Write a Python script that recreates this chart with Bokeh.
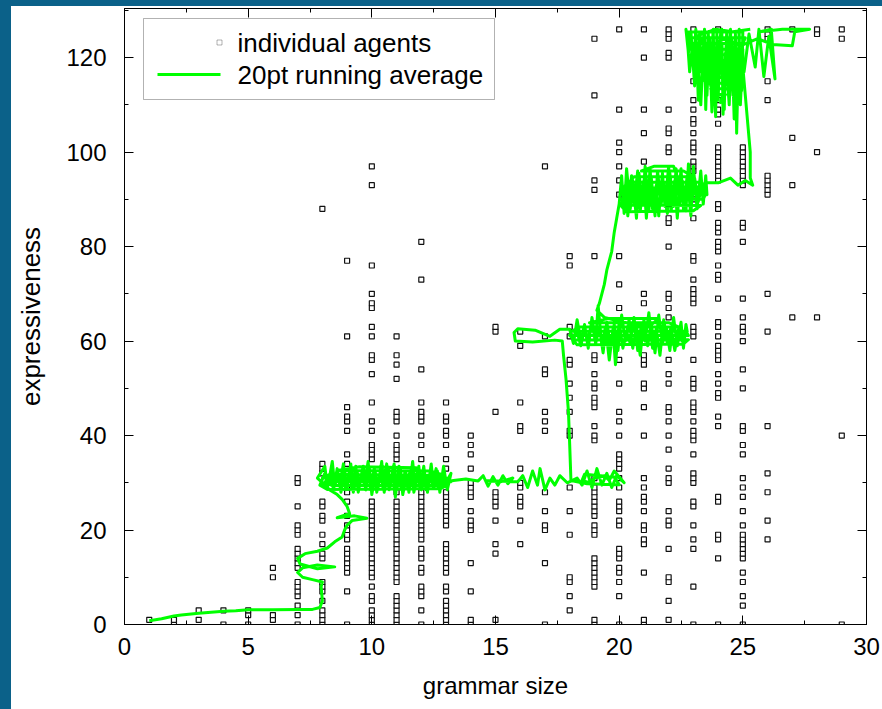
from bokeh.plotting import figure
from bokeh.models import (ColumnDataSource, SingleIntervalTicker, LinearAxis, Range1d,
                          BoxAnnotation, Label, GlobalInlineStyleSheet, CustomJSTickFormatter)
from bokeh.embed import file_html
from bokeh.resources import INLINE

# ---------------- data: individual agents (expressiveness per grammar size) ----------------
agents_g01 = [1]
agents_g02 = [0, 1]
agents_g03 = [1, 3]
agents_g04 = [0, 3]
agents_g05 = [0, 2, 3]
agents_g06 = [1, 2, 10, 12]
agents_g07 = [0, 2, 4, 6, 7, 8, 9, 12, 13, 14, 15, 16, 19, 20, 21, 25, 30, 31]
agents_g08 = [0, 1, 2, 3, 5, 7, 8, 9, 14, 15, 17, 19, 22, 23, 25, 26, 32, 33, 34, 88]
agents_g09 = [0, 7, 11, 12, 13, 14, 15, 16, 18, 19, 20, 21, 23, 26, 28, 29, 34, 36, 41, 43,
              44, 46, 61, 77]
agents_g10 = [0, 1, 2, 3, 5, 6, 8, 10, 11, 12, 13, 14, 15, 16, 17, 18, 19, 20, 21, 22, 23,
              24, 25, 26, 35, 36, 37, 38, 41, 43, 47, 53, 56, 57, 61, 63, 67, 68, 70, 76, 93, 97]
agents_g11 = [0, 1, 2, 3, 4, 5, 6, 9, 10, 11, 12, 13, 14, 15, 16, 17, 18, 19, 20, 21, 22, 23,
              24, 25, 26, 28, 35, 36, 37, 38, 40, 43, 44, 45, 52, 55, 57, 61]
agents_g12 = [0, 3, 6, 7, 8, 11, 12, 14, 15, 16, 18, 19, 20, 21, 22, 23, 24, 25, 26, 27, 28,
              35, 38, 40, 43, 44, 45, 47, 54, 73, 81]
agents_g13 = [0, 1, 2, 3, 4, 5, 7, 8, 11, 12, 13, 14, 15, 16, 17, 21, 22, 23, 24, 25, 26, 27,
              28, 33, 35, 38, 40, 41, 43, 44, 47]
agents_g14 = [0, 1, 7, 13, 20, 21, 22, 24, 27, 28, 29, 30, 33, 36, 38, 40]
agents_g15 = [1, 15, 17, 22, 25, 26, 27, 28, 45, 62, 63]
agents_g16 = [17, 22, 25, 26, 27, 29, 30, 33, 41, 42, 47, 59, 62]
agents_g17 = [0, 13, 20, 21, 24, 28, 41, 43, 45, 53, 54, 61, 97]
agents_g18 = [3, 6, 9, 10, 19, 24, 29, 40, 41, 45, 48, 51, 55, 56, 61, 63, 76, 78]
agents_g19 = [0, 1, 8, 9, 10, 11, 12, 13, 14, 19, 20, 21, 23, 24, 25, 26, 27, 28, 29, 31, 39,
              40, 42, 46, 47, 48, 50, 51, 53, 56, 57, 78, 92, 94, 112, 124]
agents_g20 = [0, 6, 9, 11, 12, 14, 15, 16, 21, 22, 24, 25, 26, 29, 31, 33, 34, 35, 36, 40, 43,
              45, 51, 56, 67, 72, 78, 91, 94, 97, 100, 102, 109, 126]
agents_g21 = [0, 1, 11, 17, 18, 20, 21, 24, 26, 27, 29, 31, 40, 46, 50, 51, 55, 56, 57, 68, 70,
              98, 104, 109, 120, 126]
agents_g22 = [1, 5, 9, 10, 16, 21, 22, 24, 30, 31, 33, 37, 40, 43, 45, 46, 51, 53, 56, 65, 67,
              69, 70, 80, 85, 86, 88, 89, 100, 101, 104, 105, 109, 120, 121, 124, 125, 126]
agents_g23 = [0, 8, 16, 18, 21, 25, 26, 30, 31, 32, 36, 39, 40, 41, 43, 45, 46, 47, 50, 51, 52,
              56, 61, 62, 63, 68, 69, 70, 71, 73, 77, 78, 86, 90, 96, 97, 98, 100, 101, 102, 104,
              106, 107, 109, 111, 115, 126]
agents_g24 = [0, 14, 18, 19, 26, 27, 42, 44, 48, 49, 51, 53, 56, 57, 58, 59, 61, 63, 64, 69, 73,
              74, 76, 79, 80, 81, 83, 84, 85, 88, 89, 94, 95, 96, 97, 98, 99, 100, 101, 106, 108,
              109, 111, 126]
agents_g25 = [0, 4, 6, 9, 11, 14, 15, 16, 17, 18, 19, 21, 24, 27, 29, 31, 36, 38, 41, 42, 50,
              54, 60, 62, 63, 65, 69, 81, 84, 85, 93, 94, 95, 96, 97, 98, 99, 100, 101]
agents_g26 = [18, 22, 28, 32, 42, 62, 70, 91, 92, 93, 94, 95, 111, 115, 124, 125, 126]
agents_g27 = [65, 93, 103, 126]
agents_g28 = [65, 100, 125, 126]
agents_g29 = [0, 40, 124, 126]

agent_columns = [agents_g01, agents_g02, agents_g03, agents_g04, agents_g05, agents_g06,
                 agents_g07, agents_g08, agents_g09, agents_g10, agents_g11, agents_g12,
                 agents_g13, agents_g14, agents_g15, agents_g16, agents_g17, agents_g18,
                 agents_g19, agents_g20, agents_g21, agents_g22, agents_g23, agents_g24,
                 agents_g25, agents_g26, agents_g27, agents_g28, agents_g29]
grammar_sizes = list(range(1, 30))

# ---------------- data: 20pt running average trajectory (size, expressiveness) ----------------
avg_start = [(1.0, 0.8), (1.5, 1.2), (2.0, 1.8), (2.3, 2.0), (3.0, 2.4), (3.5, 2.6), (4.0, 2.8),
             (4.5, 2.9), (5.0, 3.1), (6.0, 3.1), (7.0, 3.2), (7.6, 3.2), (7.9, 3.6), (8.0, 5.0),
             (7.95, 8.0), (8.0, 9.0), (7.6, 9.5), (7.2, 10.0), (7.0, 11.0), (7.2, 12.0),
             (7.8, 12.6), (8.5, 12.2), (7.8, 11.8), (7.1, 12.8), (7.0, 14.0), (7.3, 15.0),
             (7.8, 15.5), (8.2, 16.2), (8.5, 17.5), (8.8, 18.5), (8.9, 20.0), (9.0, 21.0),
             (9.2, 22.0), (9.8, 22.5), (9.3, 23.0), (8.6, 22.6), (9.1, 23.5), (9.0, 25.0),
             (8.8, 26.5), (8.6, 27.5), (8.3, 28.5), (8.0, 30.0)]
avg_blob_30 = [(7.8, 31.0), (8.1, 33.5), (8.2, 29.0), (8.35, 32.0), (8.45, 28.5), (8.6, 33.0),
               (8.7, 29.5), (8.85, 34.0), (8.95, 28.5), (9.1, 32.5), (9.2, 29.0), (9.35, 33.5),
               (9.45, 28.0), (9.6, 32.0), (9.7, 29.5), (9.85, 34.5), (9.95, 28.5), (10.1, 33.0),
               (10.2, 28.0), (10.35, 32.5), (10.45, 29.0), (10.6, 34.0), (10.7, 28.5),
               (10.85, 32.0), (10.95, 27.0), (11.1, 33.5), (11.2, 28.5), (11.35, 32.5),
               (11.45, 29.0), (11.6, 33.0), (11.7, 28.0), (11.85, 31.5), (11.95, 29.0),
               (12.1, 33.5), (12.2, 28.5), (12.35, 32.0), (12.45, 29.5), (12.6, 33.0),
               (12.7, 29.0), (12.85, 31.5), (12.95, 29.5), (13.1, 31.0), (13.2, 32.0),
               (13.05, 28.5), (12.9, 33.5), (12.75, 28.0), (12.65, 32.5), (12.5, 29.0),
               (12.4, 34.0), (12.25, 28.0), (12.15, 31.5), (12.0, 28.5), (11.9, 33.5),
               (11.75, 29.5), (11.65, 34.5), (11.5, 28.0), (11.4, 31.5), (11.25, 27.5),
               (11.15, 33.0), (11.0, 28.5), (10.9, 34.0), (10.75, 29.5), (10.65, 33.0),
               (10.5, 28.0), (10.4, 34.5), (10.25, 29.0), (10.15, 32.0), (10.0, 27.5),
               (9.9, 33.0), (9.75, 28.5), (9.65, 33.5), (9.5, 29.5), (9.4, 32.5), (9.25, 28.0),
               (9.15, 34.0), (9.0, 29.0), (8.9, 32.5), (8.75, 28.0), (8.65, 31.5), (8.5, 29.5),
               (8.4, 34.5), (8.25, 30.0), (8.1, 32.0), (7.9, 29.5),
               (8.2, 28.6), (12.8, 28.8), (13.0, 29.4), (8.4, 29.4), (8.1, 30.2), (13.2, 30.2),
               (13.0, 31.0), (8.0, 31.0), (8.3, 31.8), (12.9, 31.6), (12.4, 32.5), (8.6, 32.6),
               (9.5, 33.4), (11.8, 33.2), (11.0, 29.5), (11.8, 31.8), (12.6, 29.8), (13.3, 30.5)]
avg_plateau_30 = [(13.8, 30.8), (14.3, 30.4), (14.5, 31.5), (14.7, 29.3), (14.9, 31.3),
                  (15.1, 29.5), (15.3, 31.5), (15.5, 29.8), (15.7, 31.0), (15.2, 30.2),
                  (14.6, 30.5), (15.9, 30.2), (16.1, 31.5), (16.3, 29.0), (16.5, 32.5),
                  (16.7, 29.5), (16.8, 33.0), (17.0, 28.5), (17.2, 31.0), (17.4, 29.5),
                  (17.6, 31.5), (17.9, 30.0), (18.3, 31.0), (18.5, 29.5), (18.7, 32.5),
                  (18.9, 29.0), (19.1, 33.0), (19.3, 29.5), (19.5, 32.0), (19.7, 29.0),
                  (19.9, 31.5), (20.2, 30.0), (19.8, 32.5), (19.6, 30.5), (19.4, 31.5),
                  (19.0, 31.0), (18.8, 30.0), (18.5, 30.5), (18.6, 31.8), (19.8, 31.2),
                  (20.0, 29.6), (18.7, 29.8), (18.05, 30.5)]
avg_jump_60 = [(18.0, 38.0), (17.95, 45.0), (17.85, 52.0), (17.75, 57.0), (17.7, 60.0),
               (17.4, 60.2), (16.5, 59.8), (15.8, 60.0), (15.75, 61.8), (15.9, 62.6),
               (16.6, 62.3), (17.2, 61.0), (17.6, 62.5), (18.0, 62.5)]
avg_blob_60 = [(18.15, 59.5), (18.3, 64.5), (18.45, 60.0), (18.6, 63.5), (18.75, 58.5),
               (18.9, 65.0), (19.05, 60.0), (19.15, 67.5), (19.3, 59.0), (19.45, 63.0),
               (19.6, 56.0), (19.75, 62.5), (19.85, 55.0), (20.0, 64.0), (20.15, 58.5),
               (20.3, 62.0), (20.45, 59.5), (20.6, 65.0), (20.75, 58.0), (20.9, 63.5),
               (21.05, 60.0), (21.2, 66.0), (21.35, 58.5), (21.5, 62.5), (21.65, 57.0),
               (21.8, 64.5), (21.95, 59.5), (22.1, 63.0), (22.25, 58.0), (22.4, 62.5),
               (22.55, 60.0), (22.75, 62.0), (22.7, 63.5), (22.6, 58.5), (22.5, 64.0),
               (22.35, 59.0), (22.2, 65.0), (22.05, 58.0), (21.9, 63.0), (21.75, 59.5),
               (21.6, 65.5), (21.45, 57.5), (21.3, 63.5), (21.15, 59.0), (21.0, 64.5),
               (20.85, 57.0), (20.7, 63.0), (20.55, 58.5), (20.4, 64.5), (20.25, 60.0),
               (20.1, 65.5), (19.95, 58.0), (19.8, 63.5), (19.65, 59.0), (19.5, 64.0),
               (19.35, 57.5), (19.2, 63.0), (19.05, 59.5), (18.9, 64.0), (18.75, 60.5),
               (18.6, 62.5), (18.45, 59.0), (18.3, 62.0), (18.1, 60.5),
               (18.3, 59.2), (22.6, 59.4), (22.8, 60.3), (18.2, 60.2), (18.0, 61.2),
               (22.8, 61.2), (22.7, 62.1), (18.1, 62.1), (18.4, 63.0), (22.4, 63.0),
               (22.0, 63.9), (18.8, 63.9), (19.6, 64.8), (21.6, 64.8), (21.2, 63.0),
               (20.2, 64.0), (19.4, 65.0), (19.1, 66.5)]
avg_rise_90 = [(19.2, 68.0), (19.4, 72.0), (19.5, 75.0), (19.7, 79.0), (19.8, 83.0),
               (19.9, 86.0), (20.0, 89.0)]
avg_blob_90 = [(20.1, 95.0), (20.2, 87.0), (20.3, 96.5), (20.45, 88.0), (20.55, 94.0),
               (20.7, 86.0), (20.8, 95.5), (20.95, 89.0), (21.05, 97.0), (21.2, 87.5),
               (21.3, 94.5), (21.45, 86.5), (21.55, 96.0), (21.7, 89.0), (21.8, 93.5),
               (21.95, 87.0), (22.05, 95.5), (22.2, 88.5), (22.3, 96.5), (22.45, 89.0),
               (22.55, 94.0), (22.7, 87.5), (22.8, 97.5), (22.95, 90.0), (23.05, 94.5),
               (23.2, 89.5), (23.35, 93.0), (23.55, 91.0), (23.5, 95.0), (23.4, 89.0),
               (23.3, 96.0), (23.15, 88.0), (23.0, 97.0), (22.9, 86.5), (22.75, 95.0),
               (22.6, 88.0), (22.5, 96.5), (22.35, 86.0), (22.25, 94.0), (22.1, 87.5),
               (22.0, 97.0), (21.85, 88.5), (21.75, 95.5), (21.6, 86.5), (21.5, 93.0),
               (21.35, 88.0), (21.25, 96.5), (21.1, 86.0), (21.0, 94.0), (20.85, 87.5),
               (20.75, 96.0), (20.6, 89.0), (20.5, 95.0), (20.35, 86.5), (20.25, 93.0),
               (20.1, 88.5),
               (20.3, 87.4), (23.0, 87.6), (23.3, 88.7), (20.2, 88.8), (20.1, 90.0),
               (23.4, 90.0), (23.5, 91.2), (20.2, 91.2), (20.3, 92.4), (23.4, 92.4),
               (23.3, 93.6), (20.4, 93.6), (20.6, 94.8), (23.0, 94.8), (22.6, 96.0),
               (20.9, 96.0), (21.4, 97.0), (22.2, 97.0), (22.6, 91.0), (23.5, 93.5),
               (24.0, 93.5), (24.5, 94.5), (24.8, 93.0), (25.1, 94.0), (25.4, 93.0),
               (25.3, 94.5)]
avg_jump_120 = [(25.3, 100.0), (25.2, 106.0), (25.1, 112.0), (25.0, 118.0), (25.0, 121.0)]
avg_blob_120 = [(24.9, 110.0), (24.85, 126.0), (24.75, 104.0), (24.7, 125.0), (24.6, 112.0),
                (24.5, 126.0), (24.4, 113.0), (24.35, 125.5), (24.2, 108.0), (24.15, 126.0),
                (24.05, 116.0), (23.95, 125.0), (23.9, 107.5), (23.8, 126.0), (23.7, 114.0),
                (23.6, 125.5), (23.5, 109.0), (23.45, 126.0), (23.35, 117.0), (23.25, 125.0),
                (23.2, 111.0), (23.1, 126.0), (23.0, 118.0), (22.9, 125.5), (22.8, 121.0),
                (22.7, 126.0), (22.75, 124.5), (22.85, 117.0), (22.95, 122.0), (23.05, 114.0),
                (23.15, 123.0), (23.3, 110.0), (23.4, 121.0), (23.55, 112.0), (23.65, 124.0),
                (23.75, 108.5), (23.9, 122.0), (24.0, 111.0), (24.1, 125.0), (24.25, 109.0),
                (24.3, 121.0), (24.45, 110.0), (24.55, 124.0), (24.65, 107.0), (24.8, 120.0),
                (24.95, 113.0), (25.0, 125.5),
                (22.8, 125.4), (22.8, 124.2), (25.1, 124.2), (25.0, 123.0), (22.9, 123.0),
                (22.9, 121.8), (25.0, 121.8), (25.0, 120.6), (23.0, 120.6), (23.1, 119.4),
                (24.9, 119.4), (24.9, 118.2), (23.2, 118.2), (23.3, 117.0), (24.8, 117.0),
                (24.7, 115.8), (23.4, 115.8), (23.5, 114.6), (24.6, 114.6), (24.4, 113.4),
                (23.7, 113.4), (23.9, 112.2), (24.3, 112.2), (24.1, 110.5), (24.6, 121.0),
                (25.05, 117.0),
                (25.25, 125.0), (25.5, 118.0), (25.65, 126.0), (25.85, 116.0), (26.05, 124.5),
                (26.3, 115.5), (26.15, 126.0), (25.7, 125.5), (26.6, 126.0), (27.7, 126.0),
                (27.1, 125.5), (27.0, 122.5), (26.2, 122.8), (25.6, 124.0), (24.9, 122.5),
                (24.3, 124.0), (23.6, 122.5), (23.1, 124.5), (23.9, 126.0), (24.6, 125.5),
                (25.3, 126.0)]

avg_segments = [avg_start, avg_blob_30, avg_plateau_30, avg_jump_60, avg_blob_60,
                avg_rise_90, avg_blob_90, avg_jump_120, avg_blob_120]

legend_labels = ["individual agents", "20pt running average"]
x_label = "grammar size"
y_label = "expressiveness"

# ---------------- styling ----------------
FONT = "Liberation Sans"
BLUE = "#0b6189"
GREEN = "#00ff00"

agent_x, agent_y = [], []
for g, col in zip(grammar_sizes, agent_columns):
    agent_x.extend([g] * len(col))
    agent_y.extend(col)
agents = ColumnDataSource(data=dict(x=agent_x, y=agent_y))

avg_x, avg_y = [], []
for seg in avg_segments:
    for a, b in seg:
        avg_x.append(a)
        avg_y.append(b)
avg = ColumnDataSource(data=dict(x=avg_x, y=avg_y))

p = figure(frame_width=742, frame_height=616,
           x_range=Range1d(0, 30), y_range=Range1d(0, 130.4),
           output_backend="svg", toolbar_location=None,
           min_border_left=113, min_border_right=14, min_border_top=2, min_border_bottom=82,
           background_fill_color="white", border_fill_color="white",
           outline_line_color="black", outline_line_width=1)
p.styles = {"margin-left": "11px", "margin-top": "6px"}
p.stylesheets = [GlobalInlineStyleSheet(css=(
    "html{background:linear-gradient(to right,%s 0,%s 11px,transparent 11px),"
    "linear-gradient(to bottom,%s 0,%s 6px,#ffffff 6px);}"
    "body{background:transparent;}" % (BLUE, BLUE, BLUE, BLUE)))]

p.xgrid.visible = False
p.ygrid.visible = False

def style_axis(ax, labels=True):
    ax.axis_line_color = "black"
    ax.major_tick_line_color = "black"
    ax.minor_tick_line_color = "black"
    ax.major_tick_in = 9
    ax.major_tick_out = 0
    ax.minor_tick_in = 4
    ax.minor_tick_out = 0
    if labels:
        ax.major_label_text_font = FONT
        ax.major_label_text_font_size = "24px"
        ax.major_label_text_color = "black"
    else:
        ax.formatter = CustomJSTickFormatter(code="return ''")
        ax.major_label_text_font_size = "1px"
        ax.major_label_standoff = 0

p.xaxis.ticker = SingleIntervalTicker(interval=5, num_minor_ticks=2)
p.yaxis.ticker = SingleIntervalTicker(interval=20, num_minor_ticks=2)
style_axis(p.xaxis[0])
style_axis(p.yaxis[0])
p.xaxis.major_label_standoff = 13
p.yaxis.major_label_standoff = 18

p.xaxis.axis_label = x_label
p.xaxis.axis_label_text_font = FONT
p.xaxis.axis_label_text_font_size = "24px"
p.xaxis.axis_label_text_font_style = "normal"
p.xaxis.axis_label_text_color = "black"
p.xaxis.axis_label_standoff = 14

p.yaxis.axis_label = y_label
p.yaxis.axis_label_text_font = FONT
p.yaxis.axis_label_text_font_size = "26px"
p.yaxis.axis_label_text_font_style = "normal"
p.yaxis.axis_label_text_color = "black"
p.yaxis.axis_label_standoff = 17

top_axis = LinearAxis(ticker=SingleIntervalTicker(interval=5, num_minor_ticks=2))
style_axis(top_axis, labels=False)
p.add_layout(top_axis, "above")
right_axis = LinearAxis(ticker=SingleIntervalTicker(interval=20, num_minor_ticks=2))
style_axis(right_axis, labels=False)
p.add_layout(right_axis, "right")

p.scatter("x", "y", source=agents, marker="square", size=5, line_color="#111111",
          line_width=1.2, fill_color="white")
p.line("x", "y", source=avg, line_color=GREEN, line_width=3, line_join="round")

# ---------------- key (legend) ----------------
def cbox(l, r, t, b, **kw):
    return BoxAnnotation(left=l, right=r, top=t, bottom=b, left_units="canvas",
                         right_units="canvas", top_units="canvas", bottom_units="canvas",
                         level="overlay", **kw)

p.add_layout(cbox(132, 483, 12, 93, fill_color="white", fill_alpha=1.0,
                  line_color="black", line_width=1))
p.add_layout(cbox(205.5, 210.5, 33.5, 38.5, fill_color="white", fill_alpha=1.0,
                  line_color="black", line_width=1))
p.add_layout(cbox(146, 209, 66.5, 69.5, fill_color=GREEN, fill_alpha=1.0, line_color=None))
for i, txt in enumerate(legend_labels):
    p.add_layout(Label(x=226, y=36 + 32 * i, x_units="canvas", y_units="canvas", text=txt,
                       text_font=FONT, text_font_size="26px", text_baseline="middle",
                       text_color="black", level="overlay"))

open("out.html", "w").write(file_html(p, INLINE))
